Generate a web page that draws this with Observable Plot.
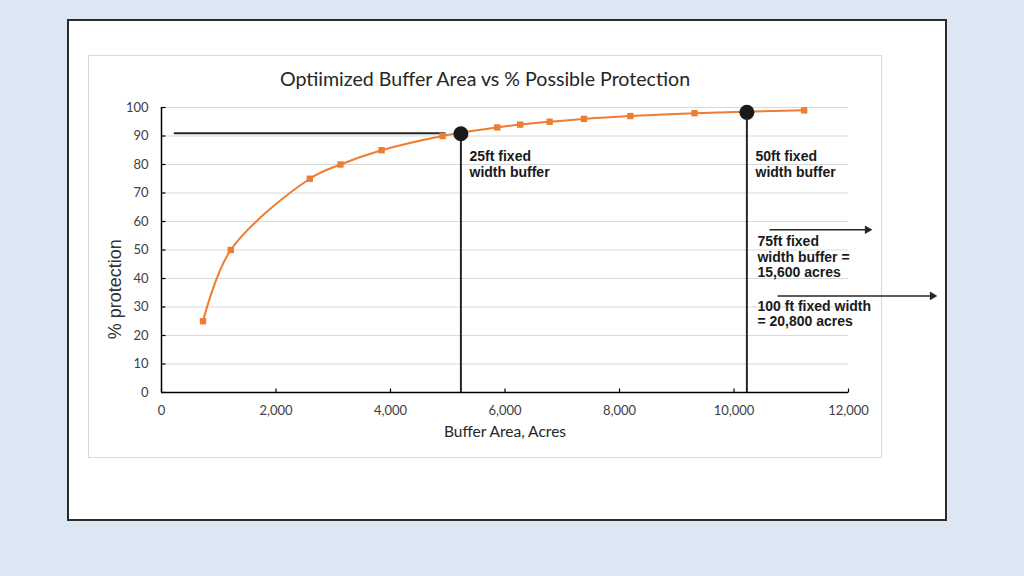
<!DOCTYPE html>
<html><head><meta charset="utf-8">
<script src="https://cdn.jsdelivr.net/npm/d3@7"></script>
<script src="https://cdn.jsdelivr.net/npm/@observablehq/plot@0.6"></script>
<style>
html,body{margin:0;padding:0;background:#dde7f4;width:1024px;height:576px;overflow:hidden;}
#outer{position:absolute;left:67px;top:19px;width:880px;height:502px;box-sizing:border-box;border:2px solid #2b2b2b;background:#fff;}
#box{position:absolute;left:88px;top:55px;width:794px;height:403px;box-sizing:border-box;border:1px solid #d9d9d9;background:#fff;}
#title{position:absolute;left:88px;top:56px;width:794px;height:46px;line-height:46px;text-align:center;font-family:Lato,sans-serif;font-size:19.6px;color:#262626;}
#chart{position:absolute;left:88px;top:101px;}
</style></head>
<body>
<div id="outer"></div>
<div id="box"></div>
<div id="title">Optiimized Buffer Area vs % Possible Protection</div>
<div id="chart"></div>
<script>
const areaAcres = [725, 1210, 2590, 3125, 3845, 4910, 5865, 6265, 6780, 7380, 8190, 9310, 11225];
const protectionPct = [25, 50, 75, 80, 85, 90, 93, 94, 95, 96, 97, 98, 99];
const xTicks = [0, 2000, 4000, 6000, 8000, 10000, 12000];
const yTicks = [0, 10, 20, 30, 40, 50, 60, 70, 80, 90, 100];
const markerArea = [5230, 10225];
const markerPct = [90.8, 98.3];
const refLineX = [215, 4960];
const refLineY = [91, 91];
const labelTexts = ["25ft fixed\nwidth buffer", "50ft fixed\nwidth buffer", "75ft fixed\nwidth buffer =\n15,600 acres", "100 ft fixed width\n= 20,800 acres"];
const labelX = [5380, 10376, 10410, 10410];
const labelY = [84.9, 84.9, 55.1, 32.6];
const arrowX1 = [10620, 10760];
const arrowX2 = [12330, 13465];
const arrowY = [57.1, 33.9];

const series = areaAcres.map((x, i) => ({x, y: protectionPct[i]}));
const markers = markerArea.map((x, i) => ({x, y: markerPct[i]}));
const labels = labelTexts.map((t, i) => ({t, x: labelX[i], y: labelY[i]}));
const arrows = arrowX1.map((x1, i) => ({x1, x2: arrowX2[i], y: arrowY[i]}));

const tickRight = {draw(ctx, size) { const l = Math.sqrt(size / Math.PI); ctx.moveTo(0, 0); ctx.lineTo(l, 0); }};
const tickUp = {draw(ctx, size) { const l = Math.sqrt(size / Math.PI); ctx.moveTo(0, 0); ctx.lineTo(0, -l); }};

const ink = "#262626";
const chart = Plot.plot({
  width: 793, height: 356,
  marginLeft: 73, marginRight: 33, marginTop: 6, marginBottom: 65,
  style: {fontFamily: "Lato, sans-serif", overflow: "visible", background: "transparent"},
  x: {domain: [0, 12000], label: null},
  y: {domain: [0, 100], label: null},
  marks: [
    Plot.gridY(yTicks, {stroke: "#d9d9d9", strokeOpacity: 1}),
    Plot.axisY({ticks: yTicks, tickSize: 0, tickPadding: 13, fontSize: 13, color: "#404040", label: null}),
    Plot.axisX({ticks: xTicks, tickSize: 0, tickPadding: 13, fontSize: 13, color: "#404040", tickFormat: d3.format(","), label: null}),
    Plot.ruleX([0], {y1: 0, y2: 100, stroke: "#000", strokeWidth: 1.5}),
    Plot.ruleY([0], {stroke: "#000", strokeWidth: 1.5}),
    Plot.dot(yTicks, {x: 0, y: d => d, symbol: tickRight, r: 4, stroke: "#000", fill: "none", strokeWidth: 1.2}),
    Plot.dot(xTicks, {x: d => d, y: 0, symbol: tickUp, r: 4, stroke: "#000", fill: "none", strokeWidth: 1.2}),
    Plot.text(["% protection"], {frameAnchor: "left", y: () => 36.2, rotate: -90, dx: -46, textAnchor: "middle", fontSize: 18, fontFamily: "Liberation Sans, Arial, sans-serif", fill: "#333"}),
    Plot.text(["Buffer Area, Acres"], {frameAnchor: "bottom", dy: 44, fontSize: 15.5, fill: "#262626"}),
    Plot.link([0], {x1: () => refLineX[0], x2: () => refLineX[1], y1: () => refLineY[0], y2: () => refLineY[1], stroke: ink, strokeWidth: 2}),
    Plot.ruleX(markers, {x: "x", y1: 0, y2: "y", stroke: ink, strokeWidth: 2}),
    Plot.line(series, {x: "x", y: "y", curve: "catmull-rom", stroke: "#ed7d31", strokeWidth: 2}),
    Plot.dot(series, {x: "x", y: "y", symbol: "square", r: 3.6, fill: "#ed7d31", stroke: "none"}),
    Plot.dot(markers, {x: "x", y: "y", r: 7.5, fill: "#1a1a1a", stroke: "none"}),
    Plot.text(labels, {x: "x", y: "y", text: "t", textAnchor: "start", lineAnchor: "top", lineHeight: 1.1, fontSize: 14, fontWeight: "bold", fontFamily: "Liberation Sans, Arial, sans-serif", fill: "#1a1a1a"}),
    Plot.link(arrows, {x1: "x1", x2: "x2", y1: "y", y2: "y", stroke: ink, strokeWidth: 1.5}),
    Plot.dot(arrows, {x: "x2", y: "y", symbol: "triangle", rotate: 90, r: 3.2, fill: ink, stroke: "none"})
  ]
});
document.getElementById("chart").appendChild(chart);
</script>
</body></html>
